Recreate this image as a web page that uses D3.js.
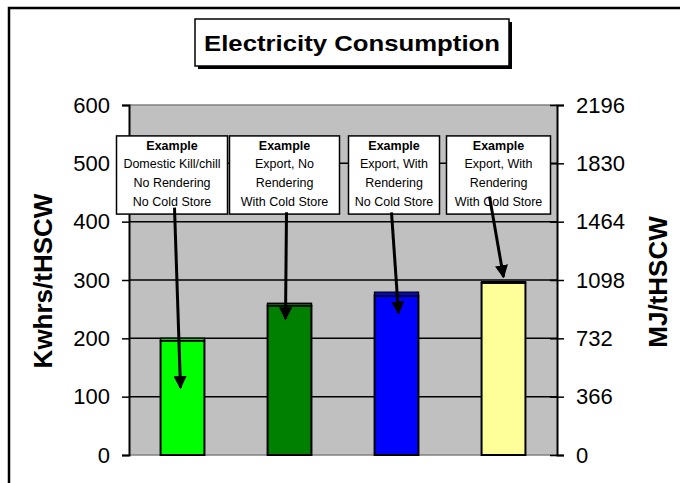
<!DOCTYPE html>
<html>
<head>
<meta charset="utf-8">
<script src="https://cdn.jsdelivr.net/npm/d3@7"></script>
<style>
  body { margin: 0; background: #fff; }
  svg { display: block; font-family: Arial, "Liberation Sans", sans-serif; }
</style>
</head>
<body>
<svg id="chart" width="680" height="483"></svg>
<script>
// data
var categories = ["Domestic Kill/chill", "Export, No Rendering", "Export, With Rendering, No Cold Store", "Export, With Rendering, With Cold Store"];
var baseValues = [196, 256, 273, 295];
var topValues = [4, 4, 6, 2];
var barColors = ["#00ff00", "#008000", "#0000ff", "#ffff99"];
var leftTicks = [0, 100, 200, 300, 400, 500, 600];
var rightTicks = [0, 366, 732, 1098, 1464, 1830, 2196];

// annotation boxes
var noteLines = [
  ["Domestic Kill/chill", "No Rendering", "No Cold Store"],
  ["Export, No", "Rendering", "With Cold Store"],
  ["Export, With", "Rendering", "No Cold Store"],
  ["Export, With", "Rendering", "With Cold Store"]
];
var arrowTips = [115, 233, 243, 305];     // value the arrow points at
var arrowTipDx = [-2, -4, 2, 0];
var arrowStartDx = [-8, -3, -5, -14];
var arrowStartVal = [424, 416, 416, 443];

var svg = d3.select("#chart");
var plot = {left: 129, right: 557, top: 105, bottom: 455};

// outer frame (only top and left visible)
svg.append("rect").attr("x", 9).attr("y", 8).attr("width", 700).attr("height", 500)
  .attr("fill", "none").attr("stroke", "#000").attr("stroke-width", 2.5);

var x = d3.scaleBand().domain(d3.range(categories.length))
  .range([plot.left, plot.right]).paddingInner(0.59).paddingOuter(0.295);
var y = d3.scaleLinear().domain([0, 600]).range([plot.bottom, plot.top]);
var y2 = d3.scaleLinear().domain([0, 2196]).range([plot.bottom, plot.top]);

// plot background
svg.append("rect").attr("x", plot.left).attr("y", plot.top)
  .attr("width", plot.right - plot.left).attr("height", plot.bottom - plot.top)
  .attr("fill", "#c0c0c0");

// gridlines
svg.append("g").selectAll("line").data(leftTicks).enter().append("line")
  .attr("x1", plot.left).attr("x2", plot.right)
  .attr("y1", function(d) { return y(d); }).attr("y2", function(d) { return y(d); })
  .attr("stroke", function(d) { return (d === 0 || d === 600) ? "#808080" : "#000"; })
  .attr("stroke-width", 1.5);

// axes
var leftAxis = svg.append("g").attr("transform", "translate(" + plot.left + ",0)")
  .call(d3.axisLeft(y).tickValues(leftTicks).tickFormat(d3.format("d")).tickSize(7).tickPadding(12));
var rightAxis = svg.append("g").attr("transform", "translate(" + plot.right + ",0)")
  .call(d3.axisRight(y2).tickValues(rightTicks).tickFormat(d3.format("d")).tickSize(7).tickPadding(12));
[leftAxis, rightAxis].forEach(function(a) {
  a.select(".domain").attr("stroke", "#000").attr("stroke-width", 2);
  a.selectAll(".tick line").attr("stroke", "#000").attr("stroke-width", 1.5);
  a.selectAll(".tick text").attr("font-size", 22).attr("fill", "#000")
    .attr("font-family", "Arial, 'Liberation Sans', sans-serif");
});
rightAxis.selectAll(".tick line").attr("x1", -7);

// bars: base segment plus thin top segment
var bars = svg.append("g");
bars.selectAll("rect.base").data(baseValues).enter().append("rect")
  .attr("class", "base")
  .attr("x", function(d, i) { return x(i); })
  .attr("width", x.bandwidth())
  .attr("y", function(d) { return y(d); })
  .attr("height", function(d) { return y(0) - y(d); })
  .attr("fill", function(d, i) { return barColors[i]; })
  .attr("stroke", "#000").attr("stroke-width", 2);
bars.selectAll("rect.top").data(topValues).enter().append("rect")
  .attr("class", "top")
  .attr("x", function(d, i) { return x(i); })
  .attr("width", x.bandwidth())
  .attr("y", function(d, i) { return y(baseValues[i] + d); })
  .attr("height", function(d, i) { return y(baseValues[i]) - y(baseValues[i] + d); })
  .attr("fill", function(d, i) { return barColors[i]; })
  .attr("stroke", "#000").attr("stroke-width", 1.5);

// arrows
svg.append("defs").append("marker").attr("id", "head")
  .attr("viewBox", "0 0 10 10").attr("refX", 9).attr("refY", 5)
  .attr("markerWidth", 4.4).attr("markerHeight", 4.4)
  .attr("markerUnits", "strokeWidth").attr("orient", "auto")
  .append("path").attr("d", "M0,0L10,5L0,10Z").attr("fill", "#000");

function cx(i) { return x(i) + x.bandwidth() / 2; }

// annotation boxes
var boxDx = [-10.5, -5, -2.5, -5];
var boxW = [111, 110, 91, 104];
var boxTop = 547, boxBottom = 413;
var notes = svg.append("g").selectAll("g").data(noteLines).enter().append("g")
  .attr("transform", function(d, i) {
    return "translate(" + (cx(i) + boxDx[i]) + "," + y(boxTop) + ")";
  });
notes.append("rect")
  .attr("x", function(d, i) { return -boxW[i] / 2; })
  .attr("width", function(d, i) { return boxW[i]; })
  .attr("height", y(boxBottom) - y(boxTop))
  .attr("fill", "#fff").attr("stroke", "#000").attr("stroke-width", 1.5);
notes.append("text").attr("text-anchor", "middle").attr("y", 14)
  .attr("font-size", 12.5).attr("font-weight", "bold").text("Example");
notes.each(function(d) {
  var g = d3.select(this);
  d.forEach(function(t, k) {
    g.append("text").attr("text-anchor", "middle").attr("y", 32 + k * 19)
      .attr("font-size", 12.5).text(t);
  });
});

svg.append("g").selectAll("line").data(arrowTips).enter().append("line")
  .attr("x1", function(d, i) { return cx(i) + arrowStartDx[i]; })
  .attr("y1", function(d, i) { return y(arrowStartVal[i]); })
  .attr("x2", function(d, i) { return cx(i) + arrowTipDx[i]; })
  .attr("y2", function(d) { return y(d); })
  .attr("stroke", "#000").attr("stroke-width", 3)
  .attr("marker-end", "url(#head)");

// title box with shadow
var title = svg.append("g");
title.append("rect").attr("x", 198).attr("y", 22).attr("width", 314).attr("height", 47).attr("fill", "#000");
title.append("rect").attr("x", 195).attr("y", 19).attr("width", 314).attr("height", 47)
  .attr("fill", "#fff").attr("stroke", "#000").attr("stroke-width", 1.5);
title.append("text").attr("x", 352).attr("y", 51).attr("text-anchor", "middle")
  .attr("font-size", 22).attr("font-weight", "bold")
  .attr("transform", "translate(352,0) scale(1.17,1) translate(-352,0)")
  .text("Electricity Consumption");

// axis titles
svg.append("text").attr("transform", "translate(52,281) rotate(-90)")
  .attr("text-anchor", "middle").attr("font-size", 26).attr("font-weight", "bold")
  .text("Kwhrs/tHSCW");
svg.append("text").attr("transform", "translate(667,282) rotate(-90)")
  .attr("text-anchor", "middle").attr("font-size", 26).attr("font-weight", "bold")
  .text("MJ/tHSCW");
</script>
</body>
</html>
